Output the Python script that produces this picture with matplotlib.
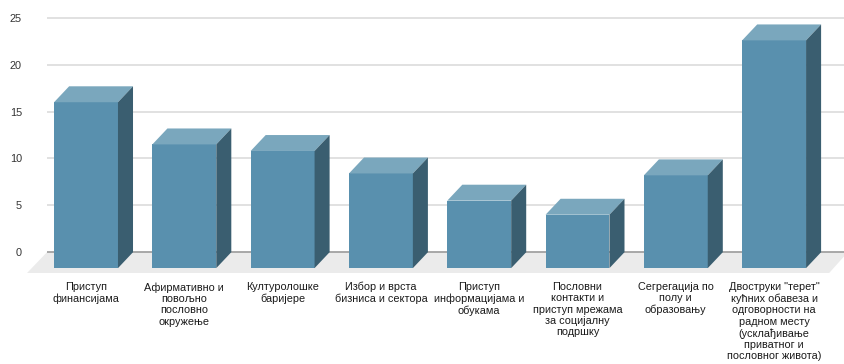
import matplotlib
matplotlib.use("Agg")
import matplotlib.pyplot as plt

plt.rcParams['font.family'] = ['Liberation Sans', 'DejaVu Sans']

# data
labels = [
    "Приступ\nфинансијама",
    "Афирмативно и\nповољно\nпословно\nокружење",
    "Културолошке\nбаријере",
    "Избор и врста\nбизниса и сектора",
    "Приступ\nинформацијама и\nобукама",
    "Пословни\nконтакти и\nприступ мрежама\nза социјалну\nподршку",
    "Сегрегација по\nполу и\nобразовању",
    "Двоструки \"терет\"\nкућних обавеза и\nодговорности на\nрадном месту\n(усклађивање\nприватног и\nпословног живота)",
]
values = [16.0, 11.5, 10.8, 8.4, 5.5, 4.0, 8.2, 22.6]
yticks = [0, 5, 10, 15, 20, 25]

# 3d look
front_col = '#5990ae'
top_col = '#7aa7bd'
side_col = '#3a5e70'
floor_col = '#ebebeb'
w = 0.65
dx = 0.153
dy = 1.7

fig = plt.figure(figsize=(8.44, 3.64), dpi=100)
ax = fig.add_axes([47/844, 91/364, 797/844, 257/364])
ax.set_xlim(-0.397, 7.711)
ax.set_ylim(-2.22, 25.2)

# grid on back wall
for t in yticks[1:]:
    ax.axhline(t, color='#dcdcdc', lw=1.2, zorder=0)

# floor
ax.fill([-0.397, 7.75, 7.56, -0.60], [0, 0, -2.22, -2.22],
        color=floor_col, lw=0, zorder=1, clip_on=False)
ax.axhline(0, color='#9a9a9a', lw=1.2, zorder=1)

xs = list(range(len(values)))
ax.bar(xs, [v + dy for v in values], bottom=-dy, width=w,
       color=front_col, zorder=3)
for x, v in zip(xs, values):
    x0, x1 = x - w/2, x + w/2
    # top face
    ax.fill([x0, x1, x1 + dx, x0 + dx], [v, v, v + dy, v + dy],
            color=top_col, lw=0, zorder=3)
    # side face
    ax.fill([x1, x1 + dx, x1 + dx, x1], [-dy, 0, v + dy, v],
            color=side_col, lw=0, zorder=3)

ax.set_yticks(yticks)
ax.set_xticks(xs)
ax.set_xticklabels(labels, fontsize=7.8, color='#1a1a1a', linespacing=1.17)
ax.tick_params(axis='x', length=0, pad=6.5)
ax.tick_params(axis='y', length=0, pad=18, labelsize=7.8, labelcolor='#333333')
for s in ax.spines.values():
    s.set_visible(False)

fig.savefig("out.png", dpi=100)
